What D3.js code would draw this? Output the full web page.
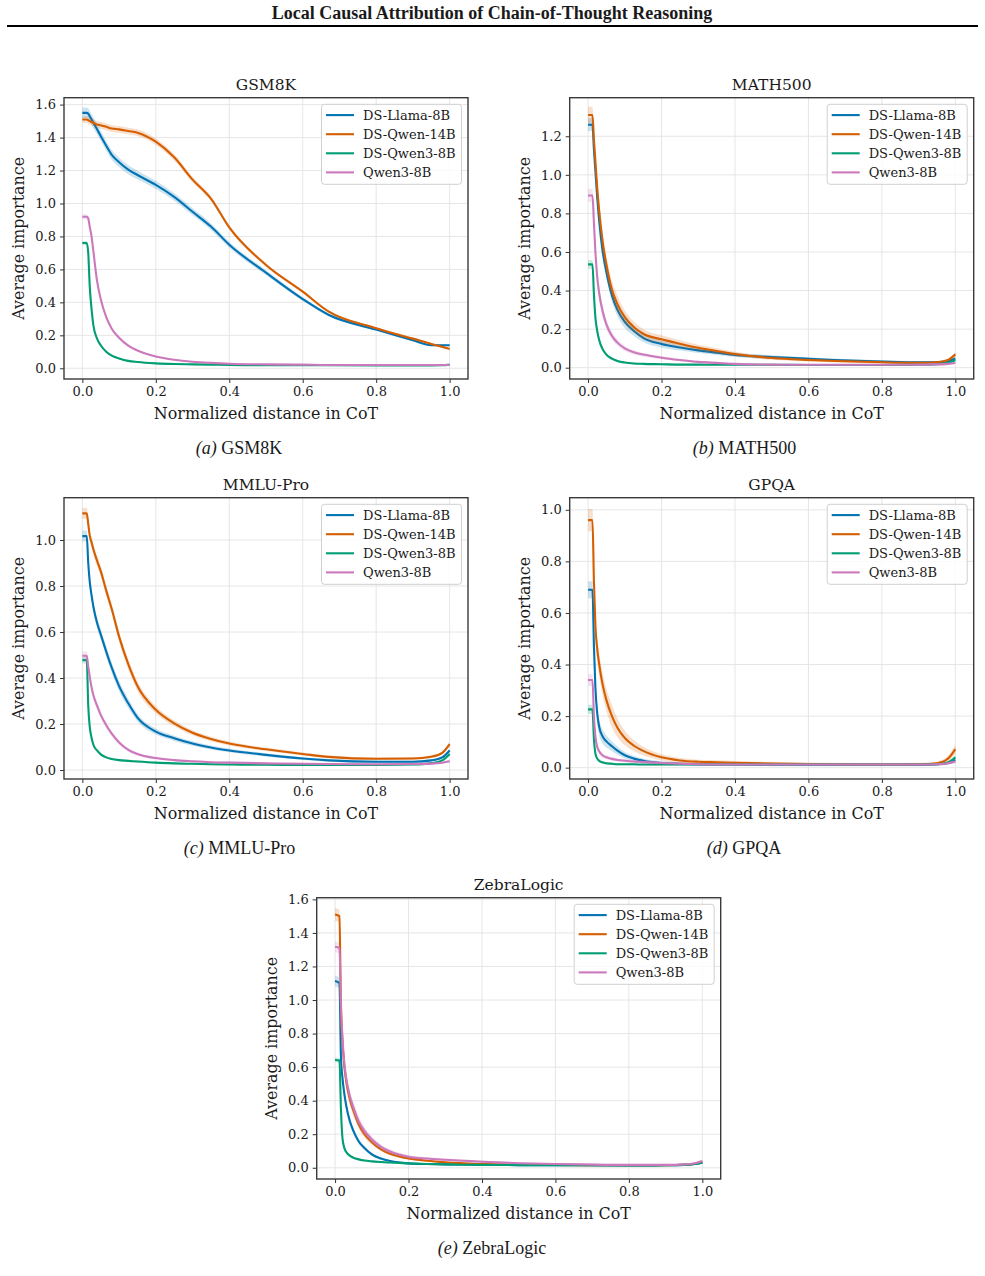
<!DOCTYPE html>
<html>
<head>
<meta charset="utf-8">
<script src="https://cdn.jsdelivr.net/npm/d3@7"></script>
<style>
  body { margin: 0; background: #fff; }
  svg text { font-family: "DejaVu Serif", serif; fill: #1a1a1a; }
  .axis text { font-size: 13px; }
  .axis line { stroke: #333; stroke-width: 1; }
  .axis-title { font-size: 15.9px; }
  .panel-title { font-size: 15.5px; }
  .legend-label { font-size: 13px; }
  .caption { font-family: "Liberation Serif", "Times New Roman", serif; font-size: 18px; }
  .header { font-family: "Liberation Serif", "Times New Roman", serif; font-size: 18px; font-weight: bold; }
</style>
</head>
<body>
<svg id="fig" width="985" height="1276"></svg>
<script>
// shared x grid (normalized distance in CoT)
const distance = [0, 0.012, 0.016, 0.02, 0.025, 0.03, 0.04, 0.05, 0.065, 0.08, 0.1, 0.125, 0.15,
  0.2, 0.25, 0.3, 0.35, 0.4, 0.5, 0.6, 0.67, 0.8, 0.9, 0.95, 0.98, 1.0];

const models = ["DS-Llama-8B", "DS-Qwen-14B", "DS-Qwen3-8B", "Qwen3-8B"];
const modelColors = ["#0173b2", "#d55e00", "#029e73", "#cc78bc"];

const xTicks = [0, 0.2, 0.4, 0.6, 0.8, 1.0];
const yTicks16 = [0, 0.2, 0.4, 0.6, 0.8, 1.0, 1.2, 1.4, 1.6];
const yTicks12 = [0, 0.2, 0.4, 0.6, 0.8, 1.0, 1.2];
const yTicks10 = [0, 0.2, 0.4, 0.6, 0.8, 1.0];

// GSM8K
const gsm8kLlama = [1.55, 1.55, 1.545, 1.53, 1.51, 1.49, 1.45, 1.41, 1.35, 1.295, 1.25, 1.205, 1.173,
  1.113, 1.04, 0.95, 0.86, 0.75, 0.58, 0.42, 0.325, 0.235, 0.17, 0.14, 0.14, 0.14];
const gsm8kQwen14 = [1.51, 1.51, 1.505, 1.50, 1.495, 1.49, 1.48, 1.475, 1.465, 1.455, 1.45, 1.44, 1.43,
  1.375, 1.28, 1.145, 1.03, 0.855, 0.627, 0.465, 0.345, 0.243, 0.18, 0.148, 0.13, 0.117];
const gsm8kDsQwen3 = [0.76, 0.76, 0.70, 0.50, 0.36, 0.26, 0.18, 0.14, 0.10, 0.077, 0.06, 0.045, 0.038,
  0.03, 0.026, 0.024, 0.022, 0.02, 0.019, 0.018, 0.018, 0.017, 0.017, 0.017, 0.018, 0.022];
const gsm8kQwen3 = [0.92, 0.92, 0.91, 0.86, 0.80, 0.71, 0.53, 0.42, 0.31, 0.24, 0.185, 0.137, 0.108,
  0.072, 0.052, 0.04, 0.033, 0.028, 0.024, 0.022, 0.02, 0.02, 0.02, 0.02, 0.02, 0.02];
// confidence band: [relative half-width, cap] per model
const gsm8kCi = [[0.02, 0.03], [0.012, 0.02], [0.03, 0.01], [0.03, 0.012]];

// MATH500
const math500Llama = [1.26, 1.26, 1.13, 1.02, 0.88, 0.766, 0.60, 0.495, 0.375, 0.30, 0.237, 0.19, 0.155,
  0.123, 0.105, 0.09, 0.078, 0.066, 0.055, 0.046, 0.04, 0.032, 0.028, 0.028, 0.034, 0.048];
const math500Qwen14 = [1.31, 1.31, 1.18, 1.07, 0.93, 0.82, 0.65, 0.535, 0.405, 0.33, 0.262, 0.21, 0.176,
  0.147, 0.124, 0.103, 0.087, 0.071, 0.05, 0.04, 0.035, 0.028, 0.025, 0.028, 0.04, 0.069];
const math500DsQwen3 = [0.536, 0.536, 0.38, 0.26, 0.19, 0.145, 0.095, 0.068, 0.047, 0.035, 0.027, 0.022, 0.02,
  0.018, 0.016, 0.016, 0.015, 0.015, 0.015, 0.014, 0.014, 0.014, 0.015, 0.018, 0.025, 0.04];
const math500Qwen3 = [0.893, 0.893, 0.75, 0.60, 0.47, 0.39, 0.29, 0.225, 0.165, 0.13, 0.10, 0.08, 0.068,
  0.052, 0.04, 0.03, 0.025, 0.02, 0.016, 0.015, 0.015, 0.015, 0.016, 0.017, 0.02, 0.024];
const math500Ci = [[0.12, 0.03], [0.12, 0.04], [0.1, 0.02], [0.1, 0.03]];

// MMLU-Pro
const mmluLlama = [1.017, 1.017, 0.90, 0.82, 0.76, 0.71, 0.64, 0.59, 0.515, 0.445, 0.365, 0.29, 0.228,
  0.167, 0.138, 0.115, 0.098, 0.085, 0.066, 0.05, 0.042, 0.036, 0.036, 0.042, 0.055, 0.085];
const mmluQwen14 = [1.116, 1.116, 1.07, 1.02, 0.99, 0.96, 0.91, 0.865, 0.78, 0.70, 0.58, 0.46, 0.365,
  0.262, 0.203, 0.162, 0.135, 0.115, 0.09, 0.07, 0.057, 0.049, 0.05, 0.058, 0.075, 0.113];
const mmluDsQwen3 = [0.478, 0.478, 0.28, 0.19, 0.14, 0.11, 0.085, 0.068, 0.055, 0.048, 0.043, 0.04, 0.037,
  0.032, 0.029, 0.027, 0.025, 0.024, 0.023, 0.022, 0.022, 0.022, 0.024, 0.03, 0.042, 0.07];
const mmluQwen3 = [0.497, 0.497, 0.45, 0.406, 0.36, 0.325, 0.28, 0.24, 0.195, 0.158, 0.12, 0.088, 0.07,
  0.052, 0.043, 0.038, 0.034, 0.032, 0.029, 0.027, 0.026, 0.025, 0.026, 0.028, 0.032, 0.038];
const mmluCi = [[0.06, 0.02], [0.05, 0.02], [0.04, 0.012], [0.05, 0.015]];

// GPQA
const gpqaLlama = [0.69, 0.69, 0.47, 0.31, 0.21, 0.16, 0.12, 0.102, 0.083, 0.066, 0.048, 0.035, 0.027,
  0.018, 0.015, 0.013, 0.012, 0.012, 0.011, 0.011, 0.011, 0.011, 0.011, 0.013, 0.018, 0.03];
const gpqaQwen14 = [0.96, 0.96, 0.72, 0.55, 0.46, 0.404, 0.32, 0.262, 0.20, 0.155, 0.115, 0.085, 0.065,
  0.04, 0.028, 0.023, 0.021, 0.019, 0.016, 0.014, 0.013, 0.012, 0.013, 0.017, 0.035, 0.072];
const gpqaDsQwen3 = [0.226, 0.226, 0.11, 0.055, 0.035, 0.027, 0.02, 0.017, 0.015, 0.013, 0.013, 0.013, 0.012,
  0.012, 0.012, 0.012, 0.012, 0.012, 0.012, 0.012, 0.012, 0.012, 0.012, 0.013, 0.02, 0.04];
const gpqaQwen3 = [0.34, 0.34, 0.20, 0.12, 0.08, 0.064, 0.047, 0.04, 0.034, 0.03, 0.027, 0.024, 0.022,
  0.018, 0.015, 0.013, 0.012, 0.012, 0.012, 0.012, 0.012, 0.012, 0.012, 0.013, 0.017, 0.024];
const gpqaCi = [[0.2, 0.03], [0.22, 0.04], [0.1, 0.015], [0.12, 0.02]];

// ZebraLogic
const zebraLlama = [1.113, 1.10, 0.66, 0.54, 0.445, 0.375, 0.28, 0.22, 0.155, 0.118, 0.08, 0.055, 0.04,
  0.026, 0.022, 0.02, 0.019, 0.018, 0.016, 0.015, 0.015, 0.014, 0.015, 0.017, 0.022, 0.03];
const zebraQwen14 = [1.51, 1.50, 0.95, 0.76, 0.61, 0.52, 0.41, 0.34, 0.255, 0.20, 0.152, 0.11, 0.083,
  0.056, 0.042, 0.033, 0.027, 0.022, 0.019, 0.017, 0.016, 0.015, 0.016, 0.018, 0.024, 0.035];
const zebraDsQwen3 = [0.642, 0.64, 0.35, 0.18, 0.12, 0.095, 0.072, 0.06, 0.05, 0.043, 0.038, 0.034, 0.031,
  0.026, 0.022, 0.02, 0.018, 0.017, 0.016, 0.015, 0.015, 0.014, 0.015, 0.017, 0.022, 0.03];
const zebraQwen3 = [1.318, 1.31, 0.98, 0.78, 0.63, 0.54, 0.43, 0.36, 0.275, 0.22, 0.17, 0.125, 0.097,
  0.066, 0.055, 0.048, 0.042, 0.036, 0.027, 0.022, 0.02, 0.017, 0.017, 0.02, 0.027, 0.04];
const zebraCi = [[0.08, 0.03], [0.08, 0.035], [0.06, 0.012], [0.1, 0.03]];

class LinePanel {
  constructor(_config, _series, _ci) {
    this.config = {
      parentElement: _config.parentElement,
      left: _config.left,
      top: _config.top,
      width: _config.width || 404,
      height: _config.height || 281.3,
      yDomain: _config.yDomain,
      yTicks: _config.yTicks,
      title: _config.title,
      tag: _config.tag,
      captionY: _config.captionY,
      captionX: _config.captionX
    };
    this.series = _series;
    this.ci = _ci;
    this.initVis();
  }

  initVis() {
    let vis = this;
    const c = vis.config;

    vis.g = d3.select(c.parentElement).append("g")
      .attr("transform", `translate(${c.left},${c.top})`);

    vis.xScale = d3.scaleLinear().domain([-0.05, 1.05]).range([0, c.width]);
    vis.yScale = d3.scaleLinear().domain(c.yDomain).range([c.height, 0]);

    // grid
    vis.g.append("g").selectAll("line")
      .data(xTicks).join("line")
      .attr("x1", d => vis.xScale(d)).attr("x2", d => vis.xScale(d))
      .attr("y1", 0).attr("y2", c.height)
      .attr("stroke", "#e3e3e3").attr("stroke-width", 0.9);
    vis.g.append("g").selectAll("line")
      .data(c.yTicks).join("line")
      .attr("x1", 0).attr("x2", c.width)
      .attr("y1", d => vis.yScale(d)).attr("y2", d => vis.yScale(d))
      .attr("stroke", "#e3e3e3").attr("stroke-width", 0.9);

    vis.xAxis = d3.axisBottom(vis.xScale).tickValues(xTicks)
      .tickFormat(d3.format(".1f")).tickSize(4).tickPadding(4);
    vis.yAxis = d3.axisLeft(vis.yScale).tickValues(c.yTicks)
      .tickFormat(d3.format(".1f")).tickSize(4).tickPadding(4);

    vis.g.append("g").attr("class", "axis x-axis")
      .attr("transform", `translate(0,${c.height})`)
      .call(vis.xAxis).call(g => g.select(".domain").remove());
    vis.g.append("g").attr("class", "axis y-axis")
      .call(vis.yAxis).call(g => g.select(".domain").remove());

    vis.g.selectAll(".axis text").attr("fill", "#1a1a1a");

    vis.chart = vis.g.append("g");

    vis.renderVis();

    // frame
    vis.g.append("rect")
      .attr("width", c.width).attr("height", c.height)
      .attr("fill", "none").attr("stroke", "#3a3a3a").attr("stroke-width", 1.4);

    vis.g.append("text").attr("class", "panel-title")
      .attr("x", c.width / 2).attr("y", -13.5)
      .attr("text-anchor", "middle").attr("dy", "0.35em")
      .text(c.title);

    vis.g.append("text").attr("class", "axis-title")
      .attr("x", c.width / 2).attr("y", c.height + 34.5)
      .attr("text-anchor", "middle").attr("dy", "0.35em")
      .text("Normalized distance in CoT");

    vis.g.append("text").attr("class", "axis-title")
      .attr("transform", `translate(-45.5,${c.height / 2}) rotate(-90)`)
      .attr("text-anchor", "middle").attr("dy", "0.35em")
      .text("Average importance");

    vis.renderLegend();

    const cap = d3.select(c.parentElement).append("text").attr("class", "caption")
      .attr("x", c.captionX).attr("y", c.captionY)
      .attr("text-anchor", "middle").attr("dy", "0.35em");
    cap.append("tspan").attr("font-style", "italic").text(`(${c.tag})`);
    cap.append("tspan").text(" " + c.title);
  }

  renderVis() {
    let vis = this;

    vis.series.forEach((vals, i) => {
      const [rel, cap] = vis.ci[i];
      const pts = distance.map((d, k) => ({ x: d, y: vals[k], h: Math.min(rel * vals[k], cap) + 0.003 }));

      const area = d3.area()
        .x(d => vis.xScale(d.x))
        .y0(d => vis.yScale(d.y - d.h))
        .y1(d => vis.yScale(d.y + d.h))
        .curve(d3.curveMonotoneX);
      const line = d3.line()
        .x(d => vis.xScale(d.x))
        .y(d => vis.yScale(d.y))
        .curve(d3.curveMonotoneX);

      vis.chart.append("path")
        .attr("d", area(pts))
        .attr("fill", modelColors[i]).attr("fill-opacity", 0.2);
      vis.chart.append("path")
        .attr("d", line(pts))
        .attr("fill", "none").attr("stroke", modelColors[i])
        .attr("stroke-width", 2.1).attr("stroke-linejoin", "round");
    });
  }

  renderLegend() {
    let vis = this;
    const c = vis.config;
    const boxW = 140, boxH = 80;
    const lg = vis.g.append("g")
      .attr("transform", `translate(${c.width - 6.5 - boxW},6.6)`);
    lg.append("rect")
      .attr("width", boxW).attr("height", boxH).attr("rx", 3)
      .attr("fill", "#fff").attr("fill-opacity", 0.8)
      .attr("stroke", "#d0d0d0").attr("stroke-width", 1);
    const rows = lg.selectAll("g.row").data(models).join("g")
      .attr("class", "row")
      .attr("transform", (d, i) => `translate(0,${10.8 + i * 19.1})`);
    rows.append("line")
      .attr("x1", 4.5).attr("x2", 32.5)
      .attr("stroke", (d, i) => modelColors[i]).attr("stroke-width", 2.1);
    rows.append("text").attr("class", "legend-label")
      .attr("x", 41.5).attr("dy", "0.35em")
      .text(d => d);
  }
}

const svg = d3.select("#fig");

svg.append("text").attr("class", "header")
  .attr("x", 492).attr("y", 13).attr("text-anchor", "middle").attr("dy", "0.35em")
  .text("Local Causal Attribution of Chain-of-Thought Reasoning");
svg.append("line")
  .attr("x1", 7).attr("x2", 978).attr("y1", 26).attr("y2", 26)
  .attr("stroke", "#000").attr("stroke-width", 2);

new LinePanel({ parentElement: "#fig", left: 64, top: 97.7, yDomain: [-0.065, 1.642], yTicks: yTicks16,
  title: "GSM8K", tag: "a", captionX: 239, captionY: 448 },
  [gsm8kLlama, gsm8kQwen14, gsm8kDsQwen3, gsm8kQwen3], gsm8kCi);
new LinePanel({ parentElement: "#fig", left: 569.7, top: 97.7, yDomain: [-0.0586, 1.4], yTicks: yTicks12,
  title: "MATH500", tag: "b", captionX: 744.5, captionY: 448 },
  [math500Llama, math500Qwen14, math500DsQwen3, math500Qwen3], math500Ci);
new LinePanel({ parentElement: "#fig", left: 64, top: 497.7, yDomain: [-0.039, 1.184], yTicks: yTicks10,
  title: "MMLU-Pro", tag: "c", captionX: 239.5, captionY: 848 },
  [mmluLlama, mmluQwen14, mmluDsQwen3, mmluQwen3], mmluCi);
new LinePanel({ parentElement: "#fig", left: 569.7, top: 497.7, yDomain: [-0.044, 1.047], yTicks: yTicks10,
  title: "GPQA", tag: "d", captionX: 744, captionY: 848 },
  [gpqaLlama, gpqaQwen14, gpqaDsQwen3, gpqaQwen3], gpqaCi);
new LinePanel({ parentElement: "#fig", left: 316.7, top: 897.7, yDomain: [-0.067, 1.61], yTicks: yTicks16,
  title: "ZebraLogic", tag: "e", captionX: 492, captionY: 1248 },
  [zebraLlama, zebraQwen14, zebraDsQwen3, zebraQwen3], zebraCi);
</script>
</body>
</html>
